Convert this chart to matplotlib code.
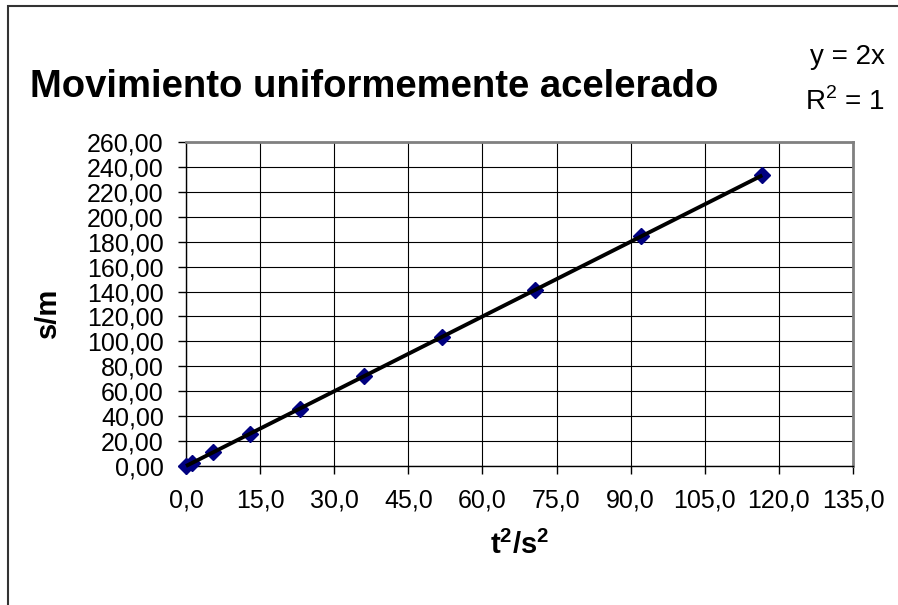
import matplotlib.pyplot as plt
import numpy as np
from matplotlib.patches import Rectangle
from matplotlib.ticker import FuncFormatter, MultipleLocator

plt.rcParams["font.family"] = ["Liberation Sans", "DejaVu Sans"]
plt.rcParams["mathtext.fontset"] = "custom"
plt.rcParams["mathtext.rm"] = "Liberation Sans"
plt.rcParams["mathtext.bf"] = "Liberation Sans:bold"

# --- Data --------------------------------------------------------------------
t2 = [0.0, 1.21, 5.52, 12.96, 23.04, 36.0, 51.84, 70.56, 92.16, 116.64]  # t^2 / s^2
s = [0.0, 2.42, 11.04, 25.92, 46.08, 72.0, 103.68, 141.12, 184.32, 233.28]  # s / m

# --- Figure ------------------------------------------------------------------
W, H = 898, 605
fig = plt.figure(figsize=(W / 100, H / 100), dpi=100)
ax = fig.add_axes([186 / W, 1 - 466 / H, 667 / W, 324 / H])

# outer chart frame (only left/top edges visible in the reference)
fig.patches.append(Rectangle((8 / W, -0.05), 1.2, 1 - 6 / H + 0.05,
                             transform=fig.transFigure, fill=False,
                             edgecolor="#333333", linewidth=1.5))

ax.plot(t2, s, linestyle="none", marker="D", markersize=8.5,
        color="#000080", zorder=3, clip_on=False)

# linear trendline (Excel-style, spanning the data range)
coef = np.polyfit(t2, s, 1)
xs = np.array([min(t2), max(t2)])
ax.plot(xs, np.polyval(coef, xs), color="black", linewidth=2.8, zorder=4,
        clip_on=False, solid_capstyle="butt")

ax.set_xlim(0, 135)
ax.set_ylim(0, 260)
ax.xaxis.set_major_locator(MultipleLocator(15))
ax.yaxis.set_major_locator(MultipleLocator(20))
ax.xaxis.set_major_formatter(FuncFormatter(lambda v, p: f"{v:.1f}".replace(".", ",")))
ax.yaxis.set_major_formatter(FuncFormatter(lambda v, p: f"{v:.2f}".replace(".", ",")))
ax.tick_params(direction="out", length=6, width=1, labelsize=18, pad=10,
               colors="black")
ax.tick_params(axis="x", pad=10)

ax.grid(True, color="black", linewidth=0.8)
ax.set_axisbelow(True)
for side in ("top", "right"):
    ax.spines[side].set_color("#808080")
    ax.spines[side].set_linewidth(2)
for side in ("left", "bottom"):
    ax.spines[side].set_color("black")
    ax.spines[side].set_linewidth(1)

fig.text(30 / W, 1 - 97 / H, "Movimiento uniformemente acelerado",
         fontsize=27.5, fontweight="bold", ha="left", va="baseline")
fig.text(885 / W, 1 - 64 / H, "y = 2x", fontsize=20, ha="right", va="baseline")
fig.text(885 / W, 1 - 110 / H, r"R$^\mathrm{2}$ = 1", fontsize=20, ha="right",
         va="baseline")
fig.text(520 / W, 1 - 545 / H, r"t$^\mathbf{2}$/s$^\mathbf{2}$", fontsize=21,
         fontweight="bold", ha="center", va="center")
fig.text(48 / W, 1 - 313 / H, "s/m", fontsize=21, fontweight="bold",
         rotation=90, ha="center", va="center")

fig.savefig("out.png", dpi=100)
